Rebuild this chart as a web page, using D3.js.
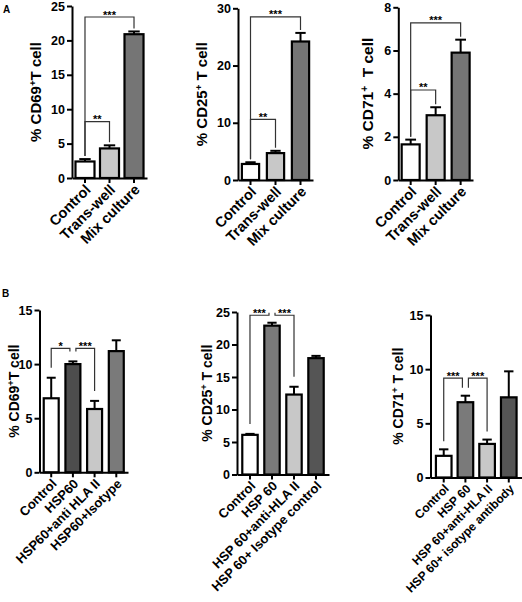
<!DOCTYPE html>
<html><head><meta charset="utf-8">
<script src="https://cdn.jsdelivr.net/npm/d3@7"></script>
<style>body{margin:0;background:#fff}svg{display:block}text{font-family:Arial,"Liberation Sans",sans-serif;font-weight:bold}</style>
</head><body>
<script>
// ---------- DATA ----------
const catsA = ["Control", "Trans-well", "Mix culture"];
const cd69A = [2.4, 4.3, 20.9];
const cd69AErr = [0.35, 0.45, 0.4];
const cd25A = [2.8, 4.7, 24.2];
const cd25AErr = [0.3, 0.4, 1.5];
const cd71A = [1.65, 3.0, 5.9];
const cd71AErr = [0.22, 0.37, 0.6];

const cats69B = ["Control", "HSP60", "HSP60+anti HLA II", "HSP60+Isotype"];
const cd69B = [6.84, 10.0, 5.85, 11.2];
const cd69BErr = [1.9, 0.25, 0.75, 1.0];
const cats25B = ["Control", "HSP 60", "HSP 60+anti-HLA II", "HSP 60+ Isotype control"];
const cd25B = [6.1, 22.9, 12.3, 17.9];
const cd25BErr = [0.15, 0.45, 1.2, 0.35];
const cats71B = ["Control", "HSP 60", "HSP 60+anti-HLA II", "HSP 60+ isotype antibody"];
const cd71B = [2.0, 6.95, 3.1, 7.4];
const cd71BErr = [0.6, 0.6, 0.4, 2.4];

const ticks69A = [0, 5, 10, 15, 20, 25];
const ticks25A = [0, 10, 20, 30];
const ticks71A = [0, 2, 4, 6, 8];
const ticks69B = [0, 5, 10, 15];
const ticks25B = [0, 5, 10, 15, 20, 25];
const ticks71B = [0, 5, 10, 15];

// brackets: [fromIndex, toIndex, level, label]
const sig69A = [[0, 2, 23.4, "***"], [0, 1, 8.2, "**"]];
const sig25A = [[0, 2, 28.5, "***"], [0, 1, 10.6, "**"]];
const sig71A = [[0, 2, 7.28, "***"], [0, 1, 4.17, "**"]];
const sig69B = [[0, 1, 11.46, "*"], [1, 2, 11.46, "***"]];
const sig25B = [[0, 1, 24.5, "***"], [1, 2, 24.5, "***"]];
const sig71B = [[0, 1, 9.17, "***"], [1, 2, 9.17, "***"]];

// ---------- LAYOUT / STYLE ----------
const W = 522, H = 602;
const svg = d3.select("body").append("svg").attr("width", W).attr("height", H);
svg.append("rect").attr("width", W).attr("height", H).attr("fill", "#fff");

const colA = ["#ffffff", "#c8c8c8", "#757575"];
const colB1 = ["#ffffff", "#4d4d4d", "#c8c8c8", "#7a7a7a"];
const colB2 = ["#ffffff", "#7a7a7a", "#c8c8c8", "#555555"];

const panels = [
  {cats: catsA, vals: cd69A, errs: cd69AErr, ticks: ticks69A, sig: sig69A, colors: colA,
   x0: 72, x1: 147, pi: 0.224, po: 0.142, y0: 178, yTop: 6, lab: ["% CD69", "+", "T cell"], labX: 36, labSize: 15, xFont: 14.5, gap: 3},
  {cats: catsA, vals: cd25A, errs: cd25AErr, ticks: ticks25A, sig: sig25A, colors: colA,
   x0: 238, x1: 313, pi: 0.31, po: 0.155, y0: 180, yTop: 8.3, lab: ["% CD25", "+", " T cell"], labX: 202, labSize: 15, xFont: 14.5, gap: 3},
  {cats: catsA, vals: cd71A, errs: cd71AErr, ticks: ticks71A, sig: sig71A, colors: colA,
   x0: 398.3, x1: 473, pi: 0.28, po: 0.135, y0: 180, yTop: 7.3, lab: ["% CD71", "+", "  T cell"], labX: 368, labSize: 15.5, xFont: 14.5, gap: 3},
  {cats: cats69B, vals: cd69B, errs: cd69BErr, ticks: ticks69B, sig: sig69B, colors: colB1,
   x0: 39.5, x1: 128, pi: 0.31, po: 0.195, y0: 472.3, yTop: 310, lab: ["% CD69", "+", "T cell"], labX: 14, labSize: 14, xFont: 13, gap: 10},
  {cats: cats25B, vals: cd25B, errs: cd25BErr, ticks: ticks25B, sig: sig25B, colors: colB2,
   x0: 237, x1: 329, pi: 0.3, po: 0.24, y0: 474.5, yTop: 312, lab: ["% CD25", "+", " T cell"], labX: 207, labSize: 14, xFont: 13, gap: 10},
  {cats: cats71B, vals: cd71B, errs: cd71BErr, ticks: ticks71B, sig: sig71B, colors: colB2,
   x0: 430.5, x1: 522, pi: 0.28, po: 0.25, y0: 477.5, yTop: 315, lab: ["% CD71", "+", " T cell"], labX: 398, labSize: 14, xFont: 12, gap: 8}
];

panels.forEach(p => {
  const g = svg.append("g");
  const x = d3.scaleBand().domain(p.cats).range([p.x0, p.x1]).paddingInner(p.pi).paddingOuter(p.po);
  const yMax = p.ticks[p.ticks.length - 1];
  const y = d3.scaleLinear().domain([0, yMax]).range([p.y0, p.yTop]);
  const bw = x.bandwidth();
  const cx = c => x(c) + bw / 2;

  // significance brackets (behind bars)
  const bg = g.append("g");
  p.sig.forEach(s => {
    const [a, b, lvl, lab] = s;
    let xa = cx(p.cats[a]), xb = cx(p.cats[b]);
    if (p.sig.some(t => t !== s && t[0] === b)) xb -= 3;
    if (p.sig.some(t => t !== s && t[1] === a)) xa += 3;
    const ly = y(lvl);
    const ya = y(p.vals[a] + p.errs[a]) - p.gap;
    const yb = y(p.vals[b] + p.errs[b]) - p.gap;
    bg.append("path")
      .attr("d", `M${xa},${ya}V${ly}H${xb}V${yb}`)
      .attr("fill", "none").attr("stroke", "#333").attr("stroke-width", 1.2);
    bg.append("text").attr("x", (xa + xb) / 2).attr("y", ly + 1.5)
      .attr("text-anchor", "middle").attr("font-size", 11).text(lab);
  });

  // error bars
  p.cats.forEach((c, i) => {
    const xc = cx(c), top = y(p.vals[i] + p.errs[i]);
    g.append("line").attr("x1", xc).attr("x2", xc).attr("y1", y(p.vals[i])).attr("y2", top)
      .attr("stroke", "#000").attr("stroke-width", 2);
    g.append("line").attr("x1", xc - bw * 0.3).attr("x2", xc + bw * 0.3).attr("y1", top).attr("y2", top)
      .attr("stroke", "#000").attr("stroke-width", 2);
  });

  // bars
  g.selectAll("rect.bar").data(p.cats).join("rect").attr("class", "bar")
    .attr("x", d => x(d)).attr("width", bw)
    .attr("y", (d, i) => y(p.vals[i])).attr("height", (d, i) => p.y0 - y(p.vals[i]))
    .attr("fill", (d, i) => p.colors[i]).attr("stroke", "#000").attr("stroke-width", 2.2);

  // axes
  const ya = g.append("g").attr("transform", `translate(${p.x0},0)`)
    .call(d3.axisLeft(y).tickValues(p.ticks).tickSize(5).tickSizeOuter(0).tickPadding(2));
  ya.select(".domain").attr("stroke-width", 2);
  ya.selectAll(".tick line").attr("stroke-width", 2);
  ya.selectAll(".tick text").attr("font-size", 12.5).attr("font-family", "Arial,'Liberation Sans',sans-serif").attr("font-weight", "bold").attr("fill", "#000");

  const xa = g.append("g").attr("transform", `translate(0,${p.y0})`)
    .call(d3.axisBottom(x).tickSize(5).tickSizeOuter(0).tickFormat(""));
  xa.select(".domain").attr("stroke-width", 2);
  xa.selectAll(".tick line").attr("stroke-width", 2);

  // x labels
  p.cats.forEach(c => {
    g.append("text")
      .attr("transform", `translate(${cx(c) + 3},${p.y0 + 9}) rotate(-45)`)
      .attr("text-anchor", "end").attr("dy", "0.35em")
      .attr("font-size", p.xFont).text(c);
  });

  // y label
  const t = g.append("text")
    .attr("transform", `translate(${p.labX},${(p.y0 + p.yTop) / 2}) rotate(-90)`)
    .attr("text-anchor", "middle").attr("dy", "0.35em").attr("font-size", p.labSize)
    .attr("xml:space", "preserve").style("white-space", "pre");
  t.append("tspan").text(p.lab[0]);
  t.append("tspan").attr("baseline-shift", "super").attr("font-size", p.labSize * 0.65).text(p.lab[1]);
  t.append("tspan").text(p.lab[2]);
});

// panel letters
svg.append("text").attr("x", 3).attr("y", 13).attr("font-size", 10).text("A");
svg.append("text").attr("x", 2).attr("y", 297).attr("font-size", 10).text("B");
</script>
</body></html>
